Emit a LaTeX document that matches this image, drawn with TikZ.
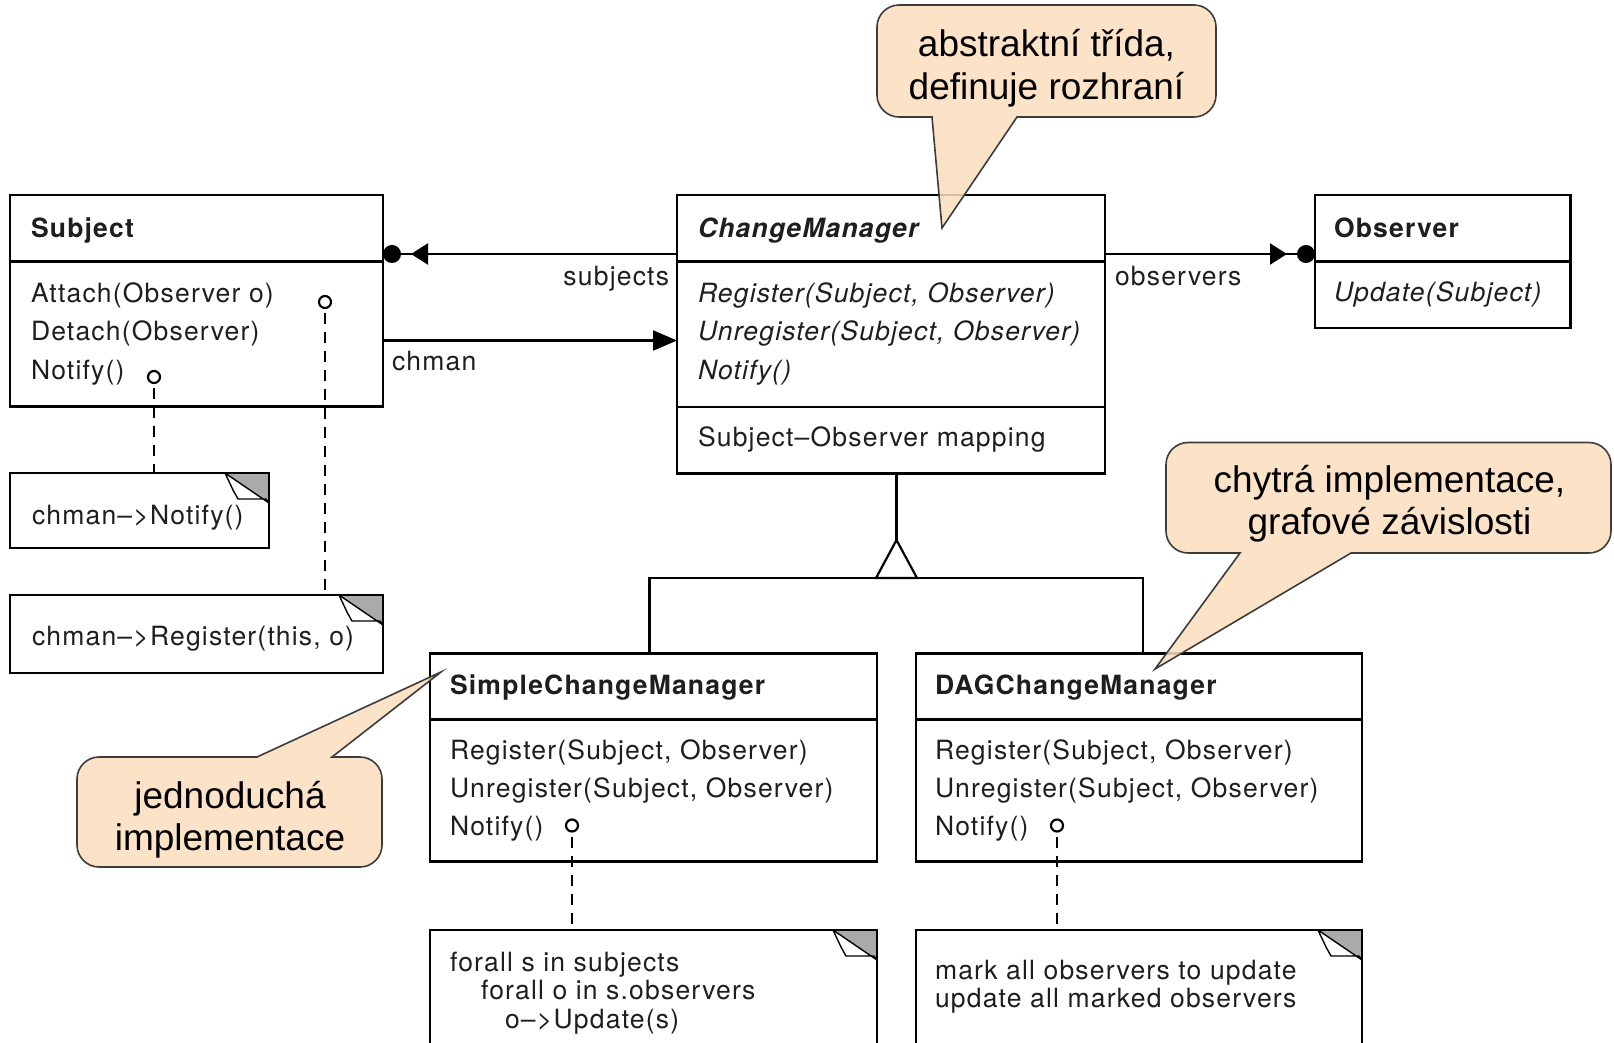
\documentclass[tikz,border=0pt]{standalone}
\usepackage{fontspec}
\setmainfont{TeX Gyre Heros}
\newfontfamily\umlf[LetterSpace=4.5]{TeX Gyre Heros}
\newfontfamily\callf{Liberation Sans}
\usetikzlibrary{arrows.meta}

\definecolor{calloutfill}{RGB}{252,222,190}
\definecolor{calloutline}{RGB}{60,60,60}
\definecolor{umltext}{RGB}{30,30,30}
\definecolor{foldgray}{RGB}{170,170,170}

\newcommand\umlsize{\fontsize{26.5pt}{38pt}\selectfont}
\newcommand\callsize{\fontsize{37pt}{42.5pt}\selectfont}

% folded corner of a note node
\newcommand\dogear[1]{%
  \fill[foldgray] ([xshift=-44pt]#1.north east) -- (#1.north east) -- ([yshift=-30pt]#1.north east) -- cycle;
  \draw[line width=1.4pt, fill=white, line join=round]
    ([xshift=-44pt]#1.north east) -- ([xshift=-36pt,yshift=-17pt]#1.north east)
    -- ([xshift=-31pt,yshift=-26pt]#1.north east) -- ([xshift=-3pt,yshift=-26pt]#1.north east)
    -- ([yshift=-30pt]#1.north east) -- cycle;
  \draw[conn] (#1.south west) rectangle (#1.north east);
}

% speech bubble, pointer leaving the bottom edge: L T R B b1 b2 tipx tipy
\newcommand\calloutdown[8]{%
  \draw[callbody] (#5,#4) -- (#7,#8) -- (#6,#4) -- ({#3-22},#4)
    .. controls ({#3-9.9},#4) and (#3,{#4-9.9}) .. (#3,{#4-22}) -- (#3,{#2+22})
    .. controls (#3,{#2+9.9}) and ({#3-9.9},#2) .. ({#3-22},#2) -- ({#1+22},#2)
    .. controls ({#1+9.9},#2) and (#1,{#2+9.9}) .. (#1,{#2+22}) -- (#1,{#4-22})
    .. controls (#1,{#4-9.9}) and ({#1+9.9},#4) .. ({#1+22},#4) -- cycle;}

% speech bubble, pointer leaving the top edge: L T R B b1 b2 tipx tipy
\newcommand\calloutup[8]{%
  \draw[callbody] (#5,#2) -- (#7,#8) -- (#6,#2) -- ({#3-22},#2)
    .. controls ({#3-9.9},#2) and (#3,{#2+9.9}) .. (#3,{#2+22}) -- (#3,{#4-22})
    .. controls (#3,{#4-9.9}) and ({#3-9.9},#4) .. ({#3-22},#4) -- ({#1+22},#4)
    .. controls ({#1+9.9},#4) and (#1,{#4-9.9}) .. (#1,{#4-22}) -- (#1,{#2+22})
    .. controls (#1,{#2+9.9}) and ({#1+9.9},#2) .. ({#1+22},#2) -- cycle;}

\tikzset{
  cls/.style={draw=black, line width=2.2pt, fill=white, inner sep=0pt, outer sep=0pt, anchor=north west},
  sepline/.style={draw=black, line width=2.2pt},
  conn/.style={draw=black, line width=2.2pt},
  lbl/.style={anchor=base west, inner sep=0pt, outer sep=0pt, font=\umlf\umlsize, text=umltext},
  lblb/.style={lbl, font=\umlf\umlsize\bfseries},
  lbli/.style={lbl, font=\umlf\umlsize\itshape},
  lblbi/.style={lbl, font=\umlf\umlsize\bfseries\itshape},
  dashlink/.style={draw=black, line width=2.2pt, dash pattern=on 11pt off 8pt},
  lolly/.style={circle, draw=black, line width=2.2pt, fill=white, minimum size=12pt, inner sep=0pt},
  manyend/.style={-{Triangle[length=17pt,width=21pt,sep=10pt]Circle[length=18pt,width=18pt]}},
  navend/.style={-{Triangle[length=24pt,width=20pt]}},
  callbody/.style={draw=calloutline, line width=1.6pt, fill=calloutfill, fill opacity=0.85},
  calltext/.style={font=\callf\callsize, align=center, text=black, inner sep=0pt},
}

\begin{document}
\begin{tikzpicture}[x=1pt,y=-1pt]
\useasboundingbox (0,0) rectangle (1614,1042);
\clip (0,0) rectangle (1614,1042);

% ---- Subject
\node[cls, minimum width=373pt, minimum height=211.5pt] (subject) at (10,195) {};
\draw[sepline] ([yshift=-66.5pt]subject.north west) -- ([yshift=-66.5pt]subject.north east);
\node[lblb] (subjectName) at (31,237) {Subject};
\node[lbl] (subjAttach) at (31,302) {Attach(Observer o)};
\node[lbl] (subjDetach) at (31,340.5) {Detach(Observer)};
\node[lbl] (subjNotify) at (31,379) {Notify()};

% ---- ChangeManager
\node[cls, minimum width=428pt, minimum height=278.5pt] (cm) at (677,195) {};
\draw[sepline] ([yshift=-66.5pt]cm.north west) -- ([yshift=-66.5pt]cm.north east);
\draw[sepline] ([yshift=-212pt]cm.north west) -- ([yshift=-212pt]cm.north east);
\node[lblbi] (cmName) at (698,237) {ChangeManager};
\node[lbli] (cmRegister) at (698,302) {Register(Subject, Observer)};
\node[lbli] (cmUnregister) at (698,340.5) {Unregister(Subject, Observer)};
\node[lbli] (cmNotify) at (698,379) {Notify()};
\node[lbl] (cmMapping) at (698,446.5) {Subject–Observer mapping};

% ---- Observer
\node[cls, minimum width=255.5pt, minimum height=133pt] (observer) at (1315,195) {};
\draw[sepline] ([yshift=-66.5pt]observer.north west) -- ([yshift=-66.5pt]observer.north east);
\node[lblb] (obsName) at (1334,237) {Observer};
\node[lbli] (obsUpdate) at (1334,301) {Update(Subject)};

% ---- SimpleChangeManager
\node[cls, minimum width=447pt, minimum height=208pt] (scm) at (430,653.5) {};
\draw[sepline] ([yshift=-66pt]scm.north west) -- ([yshift=-66pt]scm.north east);
\node[lblb] (scmName) at (450,694) {SimpleChangeManager};
\node[lbl] (scmRegister) at (450,759.5) {Register(Subject, Observer)};
\node[lbl] (scmUnregister) at (450,797.5) {Unregister(Subject, Observer)};
\node[lbl] (scmNotify) at (450,835.5) {Notify()};

% ---- DAGChangeManager
\node[cls, minimum width=446pt, minimum height=208pt] (dag) at (916,653.5) {};
\draw[sepline] ([yshift=-66pt]dag.north west) -- ([yshift=-66pt]dag.north east);
\node[lblb] (dagName) at (935,694) {DAGChangeManager};
\node[lbl] (dagRegister) at (935,759.5) {Register(Subject, Observer)};
\node[lbl] (dagUnregister) at (935,797.5) {Unregister(Subject, Observer)};
\node[lbl] (dagNotify) at (935,835.5) {Notify()};

% ---- notes
\node[cls, minimum width=259pt, minimum height=75pt] (noteNotify) at (10,473) {};
\dogear{noteNotify}
\node[lbl] (noteNotifyText) at (32,524) {chman–>Notify()};

\node[cls, minimum width=373pt, minimum height=78pt] (noteRegister) at (10,595) {};
\dogear{noteRegister}
\node[lbl] (noteRegisterText) at (32,645.5) {chman–>Register(this, o)};

\node[cls, minimum width=447pt, minimum height=140pt] (noteSimple) at (430,930) {};
\dogear{noteSimple}
\node[lbl] (noteSimpleA) at (450,971) {forall s in subjects};
\node[lbl] (noteSimpleB) at (481,999.5) {forall o in s.observers};
\node[lbl] (noteSimpleC) at (505,1028) {o–>Update(s)};

\node[cls, minimum width=446pt, minimum height=140pt] (noteDag) at (916,930) {};
\dogear{noteDag}
\node[lbl] (noteDagA) at (935,979) {mark all observers to update};
\node[lbl] (noteDagB) at (935,1007.5) {update all marked observers};

% ---- implementation notes hanging from operations
\node[lolly] (lpAttach) at (325,302) {};
\node[lolly] (lpSubjNotify) at (154,377) {};
\node[lolly] (lpScmNotify) at (572,825.5) {};
\node[lolly] (lpDagNotify) at (1057,825.5) {};
\draw[dashlink] ([yshift=-4pt]lpAttach.south) -- (noteRegister.north -| lpAttach);
\draw[dashlink] ([yshift=-4pt]lpSubjNotify.south) -- (noteNotify.north -| lpSubjNotify);
\draw[dashlink] ([yshift=-4pt]lpScmNotify.south) -- (noteSimple.north -| lpScmNotify);
\draw[dashlink] ([yshift=-4pt]lpDagNotify.south) -- (noteDag.north -| lpDagNotify);

% ---- associations
\draw[conn, manyend] ([yshift=-59pt]cm.north west) -- ([yshift=-59pt]subject.north east);
\draw[conn, manyend] ([yshift=-59pt]cm.north east) -- ([yshift=-59pt]observer.north west);
\draw[conn, navend] ([yshift=-145.5pt]subject.north east) -- ([yshift=-145.5pt]cm.north west);
\node[lbl, anchor=base east] (lblSubjects) at (669,285) {subjects};
\node[lbl] (lblObservers) at (1115,285) {observers};
\node[lbl] (lblChman) at (392,370) {chman};

% ---- inheritance
\coordinate (apex) at (896.5,540);
\draw[conn] ([xshift=219.5pt]cm.south west) -- (apex);
\draw[conn] ([xshift=219.5pt]scm.north west) |- ([xshift=227pt,yshift=75.5pt]dag.north west) -- ([xshift=227pt]dag.north west);
\draw[conn, fill=white, line join=miter] (apex) -- ++(-20.5,38) -- ++(41,0) -- cycle;

% ---- speech bubbles
\calloutdown{877}{5}{1216}{117}{932}{1017}{942}{228}
\node[calltext] (bubbleAbstract) at (1046.5,68) {abstraktní třída,\\definuje rozhraní};

\calloutdown{1166}{442.5}{1611}{553}{1240}{1351}{1155}{669}
\node[calltext] (bubbleDag) at (1389.5,503.5) {chytrá implementace,\\grafové závislosti};

\calloutup{77}{757}{382}{867}{257}{332}{441}{672}
\node[calltext] (bubbleSimple) at (230,819.5) {jednoduchá\\implementace};
\end{tikzpicture}
\end{document}
